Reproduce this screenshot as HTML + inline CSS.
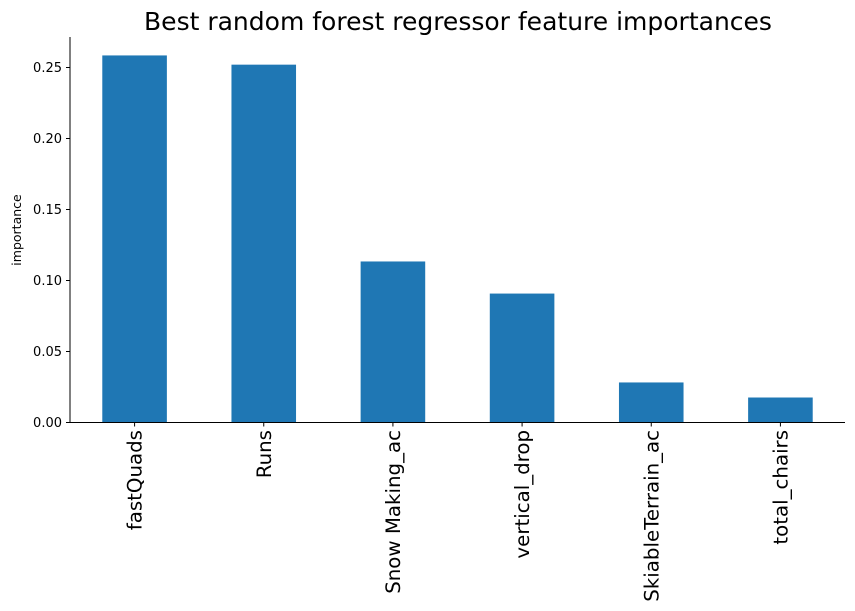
<!DOCTYPE html>
<html><head><meta charset="utf-8"><style>
body{margin:0;background:#fff;}
svg{display:block;font-family:"DejaVu Sans","Liberation Sans",sans-serif;}
</style></head><body>
<svg id="chart" width="855" height="611">
<text x="458" y="30" text-anchor="middle" font-size="25">Best random forest regressor feature importances</text>
<text transform="translate(21,230) rotate(-90)" text-anchor="middle" font-size="12.5">importance</text>
<g id="bars"></g><g id="yticks"></g><g id="xticks"></g>
<line x1="70" y1="37" x2="70" y2="422.5" stroke="#000" stroke-width="1"/>
<line x1="70" y1="422.5" x2="845" y2="422.5" stroke="#000" stroke-width="1"/>
</svg>
<script>
const categories=["fastQuads","Runs","Snow Making_ac","vertical_drop","SkiableTerrain_ac","total_chairs"];
const values=[0.2585,0.2520,0.1134,0.0908,0.0282,0.0176];
const tickValues=[0,0.05,0.10,0.15,0.20,0.25];
const tickLabels=["0.00","0.05","0.10","0.15","0.20","0.25"];
const NS="http://www.w3.org/2000/svg";
const x0=70,x1=845,yb=422.5,ppu=1420;
const step=(x1-x0)/categories.length;
function y(v){return yb-v*ppu;}
function xc(i){return x0+step*(i+0.5);}
const bars=document.getElementById('bars'),yt=document.getElementById('yticks'),xt=document.getElementById('xticks');
function mk(t,a){const e=document.createElementNS(NS,t);for(const k in a)e.setAttribute(k,a[k]);return e;}
values.forEach((v,i)=>{
 const r=mk('rect',{x:xc(i)-step*0.25,y:y(v),width:step*0.5,height:yb-y(v),fill:'#1f77b4'});
 
 
 bars.appendChild(r);
 const tk=mk('line',{x1:xc(i),x2:xc(i),y1:yb,y2:yb+4,stroke:'#000'});
 
 
 xt.appendChild(tk);
 const t=mk('text',{transform:`translate(${xc(i)+7},430) rotate(-90)`,'text-anchor':'end','font-size':'19.8'});
 t.textContent=categories[i];
 
 
 xt.appendChild(t);
});
tickValues.forEach((v,i)=>{
 const tk=mk('line',{x1:66,x2:70,y1:y(v),y2:y(v),stroke:'#000'});
 
 
 yt.appendChild(tk);
 const t=mk('text',{x:62,y:y(v)+4.5,'text-anchor':'end','font-size':'13'});
 t.textContent=tickLabels[i];
 
 
 yt.appendChild(t);
});
</script>
</body></html>
